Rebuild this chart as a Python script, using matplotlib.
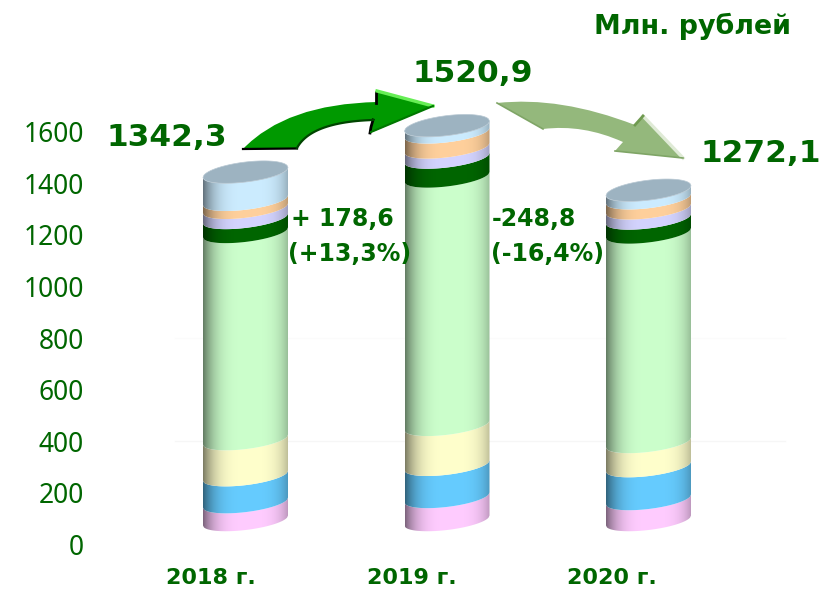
import numpy as np
import matplotlib
matplotlib.use('Agg')
import matplotlib.pyplot as plt
from matplotlib.patches import PathPatch, Polygon
from matplotlib.path import Path
from matplotlib.colors import to_rgb

years = ['2018 г.', '2019 г.', '2020 г.']
totals = ['1342,3', '1520,9', '1272,1']
yticks = [0, 200, 400, 600, 800, 1000, 1200, 1400, 1600]

# segments bottom to top
pink = [69, 89, 81]
blue = [104, 124, 127]
yellow = [139, 154, 93]
green = [799, 958, 808]
dark = [54, 73, 54]
lilac = [39, 39, 39]
peach = [31, 58, 39]
sky = [107, 26, 31]
segments = [pink, blue, yellow, green, dark, lilac, peach, sky]
colors = ['#ffccff', '#66ccff', '#ffffcc', '#ccffcc', '#006600', '#d4d4ff', '#ffd09c', '#ccecff']

GREEN = '#006600'
W, H = 825, 592
centers = [245.5, 447, 648.5]
half_w = 42.5
base_px = 520.5
px_per_unit = 0.2593
tilt = 5
half_h = 9.5


def arc(x, y, sign=1, hh=half_h):
    # lower (sign=1) or upper (sign=-1) arc of the tilted ellipse, y in pixels
    t = np.linspace(-half_w, half_w, 90)
    return x + t, y - t / half_w * tilt + sign * hh * np.sqrt(1 - (t / half_w) ** 2)


def shade(c, n=90):
    c = np.array(to_rgb(c))
    s = np.linspace(-1, 1, n)
    k = 1 - 0.36 * np.abs(s - 0.1) ** 3.6
    return np.clip(c[None, :] * k[:, None], 0, 1)


def cylinder_part(ax, x, y0, y1, color):
    xs, lo = arc(x, y0)
    _, hi = arc(x, y1)
    strip = shade(color)[None, :, :]
    im = ax.imshow(strip, extent=(x - half_w, x + half_w, 600, 0), aspect='auto', zorder=3, interpolation='bilinear')
    poly = Polygon(np.r_[np.c_[xs, lo], np.c_[xs, hi][::-1]], closed=True, fc='none', ec='none')
    ax.add_patch(poly)
    im.set_clip_path(poly)


def arrow(ax, pts, fc):
    codes = [Path.MOVETO, Path.CURVE3, Path.CURVE3, Path.LINETO, Path.LINETO, Path.LINETO, Path.LINETO,
             Path.CURVE3, Path.CURVE3, Path.CLOSEPOLY]
    ax.add_patch(PathPatch(Path(pts + [pts[0]], codes), fc=fc, ec='none', zorder=4))


fig = plt.figure(figsize=(W / 100, H / 100), dpi=100)
ax = fig.add_axes([0, 0, 1, 1])
ax.axis('off')

ax.plot([175, 785], [441, 441], color='#f6f6f6', lw=1, zorder=1)
ax.plot([175, 785], [338, 338], color='#fbfbfb', lw=1, zorder=1)

for i, x in enumerate(centers):
    y = base_px
    for seg, c in zip(segments, colors):
        top = y - seg[i] * px_per_unit
        cylinder_part(ax, x, y, top, c)
        y = top
    xs, lo = arc(x, y)
    _, hi = arc(x, y, -1, 10.5)
    ax.add_patch(Polygon(np.r_[np.c_[xs, lo], np.c_[xs, hi][::-1]], closed=True, fc='#9db3c1', ec='#b8c8d3', lw=0.5, zorder=5))

ax.set_xlim(0, W)
ax.set_ylim(H, 0)

# dark green arrow
arrow(ax, [(243, 149), (286, 104), (377, 102), (376, 90), (433, 106), (370, 133), (373, 120), (311, 122), (297, 148)],
      '#009900')
ax.plot([243, 297], [149, 148.5], color='black', lw=1.6, zorder=5)
ax.plot([375.5, 375.5], [92, 103], color='black', lw=2, zorder=5)
ax.plot([373, 371, 370], [120, 127, 133], color='black', lw=2, zorder=5)
t = np.linspace(0, 1, 30)
ax.plot((1 - t) ** 2 * 297 + 2 * t * (1 - t) * 311 + t ** 2 * 373, (1 - t) ** 2 * 148 + 2 * t * (1 - t) * 122 + t ** 2 * 120,
        color='#004400', lw=1.6, zorder=5)
ax.plot([377, 433], [91, 106], color='#66ee55', lw=2.4, zorder=5)
ax.plot([433, 371], [106, 132], color='#007700', lw=1.5, zorder=5)

# pale green arrow
arrow(ax, [(497, 103), (560, 96), (635, 125), (643, 116), (683, 158), (615, 151), (623, 142), (583, 124), (543, 129)],
      '#94b87c')
ax.plot([643, 683], [116, 158], color='#dfead6', lw=2.4, zorder=5)
ax.plot([635, 643], [125, 116], color='#6f9a50', lw=2, zorder=5)
ax.plot([615, 683], [151, 158], color='#7fa566', lw=1.2, zorder=5)
ax.plot([497, 543], [103, 129], color='#7fa566', lw=1.2, zorder=5)

for x, lab in zip([211, 412, 612], years):
    ax.text(x, 578, lab, color=GREEN, fontsize=16, fontweight='bold',
            family='DejaVu Sans', ha='center', va='center')

for v in yticks:
    ax.text(84, 548 - v * 0.2581, str(v), color=GREEN, fontsize=19, family='Noto Sans', ha='right', va='center')

big = dict(color=GREEN, fontsize=22.5, fontweight='bold', family='DejaVu Sans', va='center', ha='left')
ax.text(107, 138, totals[0], **big)
ax.text(412, 73, totals[1], **big)
ax.text(701, 153, totals[2], **big)
ax.text(594, 26, 'Млн. рублей', color=GREEN, fontsize=19.4, fontweight='bold', family='DejaVu Sans', va='center', ha='left')

mid = dict(color=GREEN, fontsize=17, fontweight='bold', family='DejaVu Sans', va='center', ha='left')
ax.text(291, 219, '+ 178,6', **mid)
ax.text(288, 254, '(+13,3%)', **mid)
ax.text(492, 219, '-248,8', **mid)
ax.text(491, 254, '(-16,4%)', **mid)

fig.savefig('out.png', dpi=100)
